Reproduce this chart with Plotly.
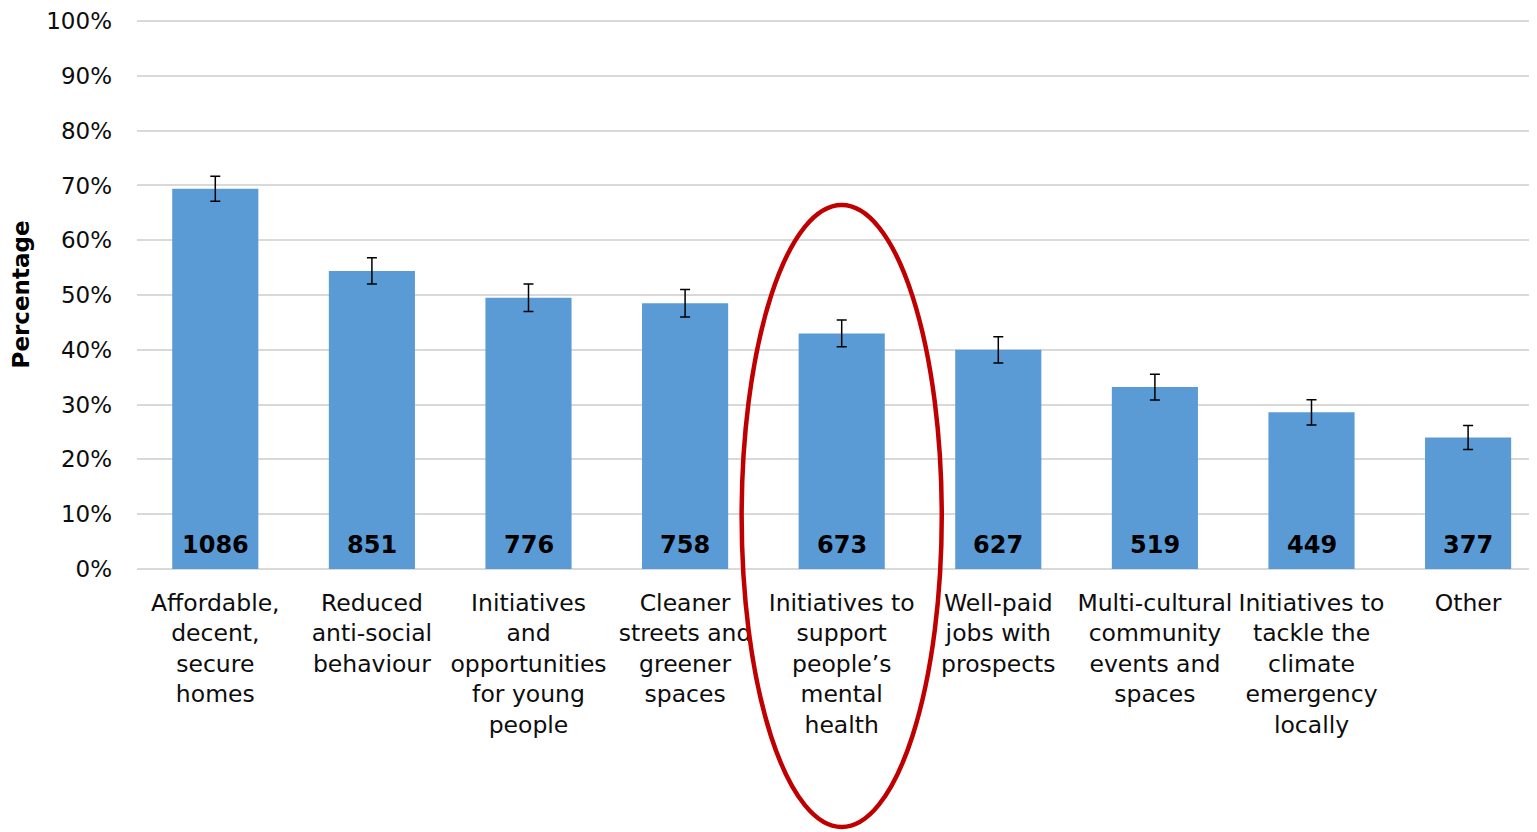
import plotly.graph_objects as go

categories = [
    "Affordable,<br>decent,<br>secure<br>homes",
    "Reduced<br>anti-social<br>behaviour",
    "Initiatives<br>and<br>opportunities<br>for young<br>people",
    "Cleaner<br>streets and<br>greener<br>spaces",
    "Initiatives to<br>support<br>people’s<br>mental<br>health",
    "Well-paid<br>jobs with<br>prospects",
    "Multi-cultural<br>community<br>events and<br>spaces",
    "Initiatives to<br>tackle the<br>climate<br>emergency<br>locally",
    "Other",
]
percentages = [69.4, 54.4, 49.5, 48.5, 43.0, 40.0, 33.2, 28.6, 24.0]
errors = [2.3, 2.4, 2.5, 2.5, 2.45, 2.4, 2.35, 2.3, 2.2]
counts = [1086, 851, 776, 758, 673, 627, 519, 449, 377]
highlighted = 4
y_ticks = list(range(0, 101, 10))
y_tick_labels = [f"{v}%" for v in y_ticks]

# page has an 8px body margin; size the figure to fit the 1537x832 window
W, H = 1529, 824
ML, MR, MT, MB = 129, 0, 12, 263
X_RANGE = [-0.5, 8.44]
FONT = "DejaVu Sans"
TXT = "#0d0d0d"

fig = go.Figure()
fig.add_trace(go.Bar(
    x=categories,
    y=percentages,
    marker=dict(color="#5B9BD5", line=dict(width=0)),
    error_y=dict(type="data", array=errors, visible=True,
                 color="#000000", thickness=1.5, width=5),
    hoverinfo="skip",
))

for cat, n in zip(categories, counts):
    fig.add_annotation(
        x=cat, y=0, xref="x", yref="y", text=f"<b>{n}</b>",
        showarrow=False, yanchor="bottom", yshift=8,
        font=dict(family=FONT, size=24, color="#000000"),
    )

# highlight ellipse around the selected category (paper coords, not clipped)
span = X_RANGE[1] - X_RANGE[0]
cx = (highlighted - X_RANGE[0]) / span
half_w = 0.639 / span
fig.add_shape(
    type="circle", xref="paper", yref="paper",
    x0=cx - half_w, x1=cx + half_w, y0=-0.470, y1=0.663,
    line=dict(color="#C00000", width=4.5), layer="above",
)

fig.update_layout(
    width=W, height=H,
    margin=dict(l=ML, r=MR, t=MT, b=MB, pad=0, autoexpand=False),
    paper_bgcolor="white", plot_bgcolor="white",
    bargap=0.45,
    showlegend=False,
    font=dict(family=FONT, size=23, color=TXT),
    xaxis=dict(
        automargin=False, range=X_RANGE,
        showgrid=False, showline=False, zeroline=False, ticks="",
        tickfont=dict(family=FONT, size=23.5, color=TXT),
        ticklabelstandoff=17,
    ),
    yaxis=dict(
        automargin=False,
        range=[0, 100.2], tickvals=y_ticks, ticktext=y_tick_labels,
        showgrid=True, gridcolor="#D9D9D9", gridwidth=1.5,
        zeroline=True, zerolinecolor="#D9D9D9", zerolinewidth=1.5,
        showline=False, ticks="",
        tickfont=dict(family=FONT, size=23, color=TXT),
        ticklabelstandoff=24, ticklabeloverflow="allow",
        title=dict(text="<b>Percentage</b>", standoff=14,
                   font=dict(family=FONT, size=23, color="#000000")),
    ),
)

fig.write_html("out.html")
